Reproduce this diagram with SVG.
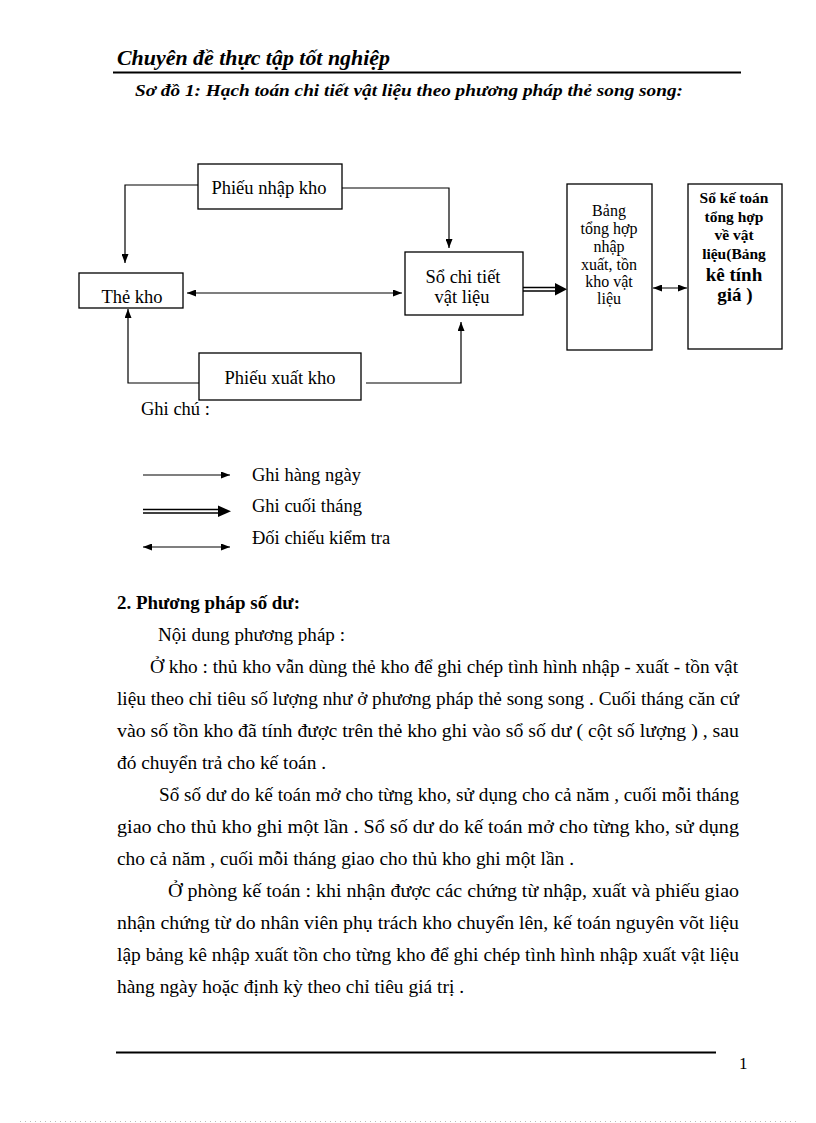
<svg xmlns="http://www.w3.org/2000/svg" width="816" height="1123" viewBox="0 0 816 1123">
<style>
text{font-family:"Liberation Serif","Times New Roman",serif;fill:#000}
.hd{font-weight:bold;font-style:italic}
.bx{fill:#fff;stroke:#000;stroke-width:1.3}
.lb{font-size:18.5px;text-anchor:middle}
.sm{font-size:16px;text-anchor:middle}
.bs{font-size:15.5px;text-anchor:middle;font-weight:bold}
.bl{font-size:19px;text-anchor:middle;font-weight:bold}
.cn{fill:none;stroke:#000;stroke-width:1.2}
.body{font-size:18px}
.lg{font-size:18.5px}
</style>
<defs>
<marker id="ah" viewBox="0 0 9 7" refX="9" refY="3.5" markerWidth="9" markerHeight="7" markerUnits="userSpaceOnUse" orient="auto-start-reverse">
<path d="M0,0 L9,3.5 L0,7 z" fill="#000"/>
</marker>
</defs>
<rect width="816" height="1123" fill="#fff"/>

<g id="header">
<text class="hd" x="117" y="65" font-size="20" textLength="273" lengthAdjust="spacingAndGlyphs">Chuyên đề thực tập tốt nghiệp</text>
<line x1="113" y1="72.5" x2="741" y2="72.5" stroke="#000" stroke-width="2"/>
<text class="hd" x="135" y="96" font-size="17" textLength="548" lengthAdjust="spacingAndGlyphs">Sơ đồ 1: Hạch toán chi tiết vật liệu theo phương pháp thẻ song song:</text>
</g>

<g id="connectors">
<path class="cn" d="M198,185 H125 V263" marker-end="url(#ah)"/>
<path class="cn" d="M342,188 H449 V248" marker-end="url(#ah)"/>
<path class="cn" d="M187,293 H402" marker-start="url(#ah)" marker-end="url(#ah)"/>
<path class="cn" d="M200,383 H128 V309" marker-end="url(#ah)"/>
<path class="cn" d="M366,383 H461 V322" marker-end="url(#ah)"/>
<path class="cn" d="M653,288 H687" marker-start="url(#ah)" marker-end="url(#ah)"/>
<g id="monthly-arrow">
<line x1="523" y1="287.5" x2="557" y2="287.5" stroke="#000" stroke-width="1.6"/>
<line x1="523" y1="291" x2="557" y2="291" stroke="#000" stroke-width="1.6"/>
<polygon points="555,283 567,289.3 555,295.5" fill="#000"/>
</g>
</g>

<g id="node-phieu-nhap">
<rect class="bx" x="198" y="164" width="144" height="45"/>
<text class="lb" x="269" y="194">Phiếu nhập kho</text>
</g>
<g id="node-the-kho">
<rect class="bx" x="79" y="273" width="104" height="35"/>
<text class="lb" x="132" y="303">Thẻ kho</text>
</g>
<g id="node-so-chi-tiet">
<rect class="bx" x="405" y="252" width="118" height="63"/>
<text class="lb" x="463" y="283">Sổ chi tiết</text>
<text class="lb" x="462" y="303">vật liệu</text>
</g>
<g id="node-phieu-xuat">
<rect class="bx" x="199" y="353" width="162" height="47"/>
<text class="lb" x="280" y="384">Phiếu xuất kho</text>
</g>
<g id="node-bang-tong-hop">
<rect class="bx" x="567" y="184" width="85" height="166"/>
<text class="sm" x="609" y="216">Bảng</text>
<text class="sm" x="609" y="234">tổng  hợp</text>
<text class="sm" x="609" y="252">nhập</text>
<text class="sm" x="609" y="270">xuất, tồn</text>
<text class="sm" x="609" y="287">kho vật</text>
<text class="sm" x="609" y="304">liệu</text>
</g>
<g id="node-so-ke-toan">
<rect class="bx" x="688" y="184" width="94" height="165"/>
<text class="bs" x="734" y="203">Sổ kế toán</text>
<text class="bs" x="734" y="222">tổng hợp</text>
<text class="bs" x="734" y="240">về vật</text>
<text class="bs" x="734" y="259">liệu(Bảng</text>
<text class="bl" x="734" y="281">kê tính</text>
<text class="bl" x="735" y="301">giá )</text>
</g>

<g id="legend">
<text class="lg" x="141" y="415">Ghi chú :</text>
<path class="cn" d="M143,475 H230" marker-end="url(#ah)"/>
<text class="lg" x="252" y="481">Ghi hàng ngày</text>
<line x1="143" y1="509.5" x2="220" y2="509.5" stroke="#000" stroke-width="1.6"/>
<line x1="143" y1="513" x2="220" y2="513" stroke="#000" stroke-width="1.6"/>
<polygon points="218,505.5 231,511.3 218,517" fill="#000"/>
<text class="lg" x="252" y="512">Ghi cuối tháng</text>
<path class="cn" d="M143,547 H230" marker-start="url(#ah)" marker-end="url(#ah)"/>
<text class="lg" x="252" y="544">Đối chiếu kiểm tra</text>
</g>

<g id="body">
<text class="body" x="117" y="609" font-weight="bold" textLength="183" lengthAdjust="spacingAndGlyphs">2. Phương pháp số dư:</text>
<text class="body" x="158" y="641" textLength="187" lengthAdjust="spacingAndGlyphs">Nội dung phương pháp :</text>
<text class="body" x="150" y="673" textLength="588" lengthAdjust="spacingAndGlyphs">Ở kho : thủ kho vẫn dùng thẻ kho để ghi  chép tình hình nhập - xuất - tồn vật</text>
<text class="body" x="117" y="705" textLength="622" lengthAdjust="spacingAndGlyphs">liệu  theo chỉ tiêu số lượng như ở phương pháp thẻ song song . Cuối tháng căn cứ</text>
<text class="body" x="117" y="737" textLength="622" lengthAdjust="spacingAndGlyphs">vào số tồn kho  đã tính  được trên  thẻ kho ghi  vào sổ số dư ( cột số lượng ) , sau</text>
<text class="body" x="117" y="769" textLength="209" lengthAdjust="spacingAndGlyphs">đó chuyển trả cho kế toán .</text>
<text class="body" x="159" y="801" textLength="580" lengthAdjust="spacingAndGlyphs">Sổ số dư do kế toán mở cho từng kho, sử dụng cho cả năm , cuối mỗi tháng</text>
<text class="body" x="117" y="833" textLength="622" lengthAdjust="spacingAndGlyphs">giao cho thủ kho ghi một lần .   Sổ số dư do kế toán mở cho từng kho, sử dụng</text>
<text class="body" x="117" y="865" textLength="457" lengthAdjust="spacingAndGlyphs">cho cả năm , cuối mỗi tháng giao  cho thủ kho ghi một lần .</text>
<text class="body" x="168" y="897" textLength="571" lengthAdjust="spacingAndGlyphs">Ở phòng kế toán : khi nhận được các chứng từ nhập, xuất và phiếu giao</text>
<text class="body" x="117" y="929" textLength="622" lengthAdjust="spacingAndGlyphs">nhận  chứng từ do nhân viên phụ trách kho chuyển lên, kế toán nguyên võt liệu</text>
<text class="body" x="117" y="961" textLength="622" lengthAdjust="spacingAndGlyphs">lập bảng kê nhập xuất tồn cho từng kho để ghi chép tình hình nhập xuất vật liệu</text>
<text class="body" x="117" y="993" textLength="347" lengthAdjust="spacingAndGlyphs">hàng ngày hoặc định kỳ theo chỉ tiêu giá trị .</text>
</g>

<g id="footer">
<line x1="116" y1="1052.5" x2="716" y2="1052.5" stroke="#000" stroke-width="2"/>
<text x="739" y="1069" font-size="17">1</text>
<line x1="20" y1="1121.5" x2="796" y2="1121.5" stroke="#bbb" stroke-width="1" stroke-dasharray="1,4"/>
</g>
</svg>
